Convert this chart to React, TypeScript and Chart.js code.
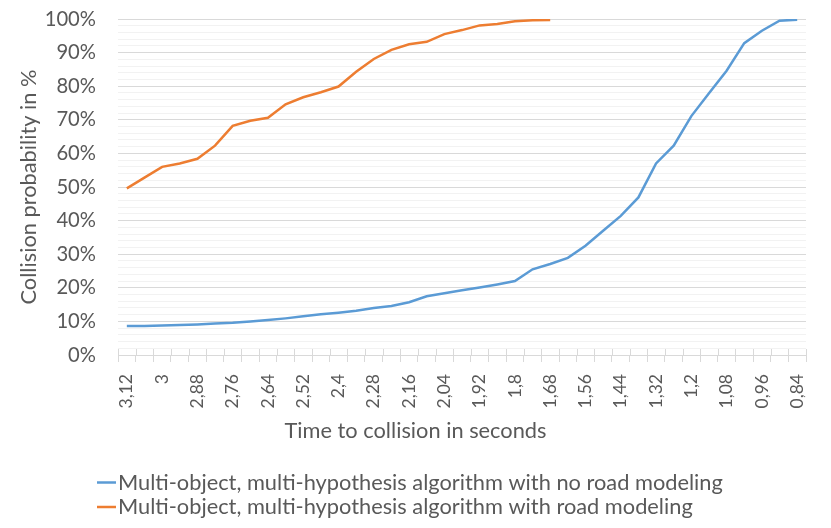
import { useEffect, useRef } from "react";
import { Chart, registerables } from "chart.js";

Chart.register(...registerables);

const categories = [
  "3,12", "3,06", "3", "2,94", "2,88", "2,82", "2,76", "2,7", "2,64", "2,58",
  "2,52", "2,46", "2,4", "2,34", "2,28", "2,22", "2,16", "2,1", "2,04", "1,98",
  "1,92", "1,86", "1,8", "1,74", "1,68", "1,62", "1,56", "1,5", "1,44", "1,38",
  "1,32", "1,26", "1,2", "1,14", "1,08", "1,02", "0,96", "0,9", "0,84",
];

const noRoadModeling = [
  8.6, 8.6, 8.8, 8.9, 9.1, 9.4, 9.6, 10.0, 10.4, 10.9,
  11.5, 12.1, 12.6, 13.2, 14.0, 14.6, 15.7, 17.5, 18.4, 19.3,
  20.1, 21.0, 22.0, 25.5, 27.1, 28.9, 32.5, 37.0, 41.4, 46.9,
  57.0, 62.3, 71.1, 77.9, 84.6, 92.8, 96.5, 99.5, 99.8,
];

const withRoadModeling = [
  49.6, 52.8, 56.0, 57.0, 58.4, 62.3, 68.2, 69.7, 70.6, 74.6,
  76.7, 78.2, 79.9, 84.3, 88.1, 90.8, 92.5, 93.2, 95.5, 96.7,
  98.1, 98.5, 99.3, 99.6, 99.7,
];

const seriesLabels = [
  "Multi-object, multi-hypothesis algorithm with no road modeling",
  "Multi-object, multi-hypothesis algorithm with road modeling",
];
const seriesColors = ["#5b9bd5", "#ed7d31"];

const xTitle = "Time to collision in seconds";
const yTitle = "Collision probability in %";

const yMin = 0;
const yMax = 100;
const yMinorStep = 2;
const yMajorStep = 10;

const FONT = "Lato, 'Open Sans', sans-serif";
const TEXT = "#595959";
const TITLE_SIZE = 21.8;

const crossTicks = {
  id: "crossTicks",
  beforeDatasetsDraw(chart: any) {
    const x = chart.scales.x;
    const { ctx, chartArea } = chart;
    const n = chart.data.labels.length;
    const step = x.getPixelForValue(1) - x.getPixelForValue(0);
    ctx.save();
    ctx.strokeStyle = "#d9d9d9";
    ctx.lineWidth = 1;
    for (let i = 0; i <= n; i++) {
      const px = Math.round(x.getPixelForValue(i) - step / 2) + 0.5;
      ctx.beginPath();
      ctx.moveTo(px, chartArea.bottom);
      ctx.lineTo(px, chartArea.bottom - 6);
      ctx.stroke();
    }
    ctx.restore();
  },
};

// x-axis title centred on the whole chart width (as in the reference)
const centredXTitle = {
  id: "centredXTitle",
  afterDraw(chart: any) {
    const { ctx } = chart;
    const opts = chart.options.plugins.centredXTitle;
    ctx.save();
    ctx.font = `${opts.fontSize}px ${FONT}`;
    ctx.textBaseline = "middle";
    ctx.textAlign = "center";
    ctx.fillStyle = TEXT;
    ctx.fillText(opts.text, chart.width / 2, opts.y);
    ctx.restore();
  },
};

const stackedLegend = {
  id: "stackedLegend",
  afterDraw(chart: any) {
    const { ctx } = chart;
    const opts = chart.options.plugins.stackedLegend;
    ctx.save();
    ctx.font = `${opts.fontSize}px ${FONT}`;
    ctx.textBaseline = "middle";
    ctx.textAlign = "left";
    chart.data.datasets.forEach((ds: any, i: number) => {
      const y = opts.top + i * opts.rowHeight;
      ctx.strokeStyle = ds.borderColor;
      ctx.lineWidth = 2.5;
      ctx.beginPath();
      ctx.moveTo(opts.left, y);
      ctx.lineTo(opts.left + opts.lineLength, y);
      ctx.stroke();
      ctx.fillStyle = TEXT;
      ctx.fillText(ds.label, opts.left + opts.lineLength + 2, y);
    });
    ctx.restore();
  },
};

export default function App() {
  const ref = useRef<HTMLCanvasElement | null>(null);

  useEffect(() => {
    document.body.style.margin = "0";
    if (!ref.current) return;
    const chart = new Chart(ref.current, {
      type: "line",
      data: {
        labels: categories,
        datasets: [
          {
            label: seriesLabels[0],
            data: noRoadModeling,
            borderColor: seriesColors[0],
            backgroundColor: seriesColors[0],
            borderWidth: 2.5,
            pointRadius: 0,
            tension: 0,
          },
          {
            label: seriesLabels[1],
            data: withRoadModeling,
            borderColor: seriesColors[1],
            backgroundColor: seriesColors[1],
            borderWidth: 2.5,
            pointRadius: 0,
            tension: 0,
          },
        ],
      },
      options: {
        responsive: false,
        animation: false,
        layout: { padding: { top: 19, right: 25, bottom: 73, left: 0 } },
        plugins: {
          legend: { display: false },
          tooltip: { enabled: false },
          centredXTitle: { text: xTitle, y: 431, fontSize: TITLE_SIZE },
          stackedLegend: { left: 97, lineLength: 19, top: 482.5, rowHeight: 24.5, fontSize: TITLE_SIZE },
        } as any,
        scales: {
          x: {
            type: "category",
            offset: true,
            afterFit: (s: any) => { s.height = 100; },
            grid: {
              offset: true,
              drawOnChartArea: false,
              drawTicks: true,
              tickLength: 7,
              color: "#d9d9d9",
            },
            border: { display: true, color: "#d9d9d9" },
            ticks: {
              autoSkip: false,
              minRotation: 90,
              maxRotation: 90,
              padding: 12,
              color: TEXT,
              font: { family: FONT, size: 17.5 },
              callback: (_v: any, i: number) => (i % 2 === 0 ? categories[i] : ""),
            },
            title: { display: false },
          },
          y: {
            min: yMin,
            max: yMax,
            afterFit: (s: any) => { s.width = 118; },
            grid: {
              drawTicks: true,
              tickLength: 22,
              tickColor: "rgba(0,0,0,0)",
              lineWidth: 1,
              color: (c: any) => (c.tick && c.tick.value % yMajorStep === 0 ? "#d9d9d9" : "#f2f2f2"),
            },
            border: { display: false },
            ticks: {
              stepSize: yMinorStep,
              autoSkip: false,
              padding: 0,
              color: TEXT,
              font: { family: FONT, size: 20.2 },
              callback: (v: any) => (Number(v) % yMajorStep === 0 ? `${v}%` : ""),
            },
            title: {
              display: true,
              text: yTitle,
              color: TEXT,
              font: { family: FONT, size: TITLE_SIZE, lineHeight: 1.2 },
              padding: { top: 16, bottom: 0 },
            },
          },
        },
      },
      plugins: [crossTicks, centredXTitle, stackedLegend],
    });
    return () => chart.destroy();
  }, []);

  return (
    <div style={{ width: 831, height: 528 }}>
      <canvas ref={ref} width={831} height={528} style={{ display: "block" }} />
    </div>
  );
}
